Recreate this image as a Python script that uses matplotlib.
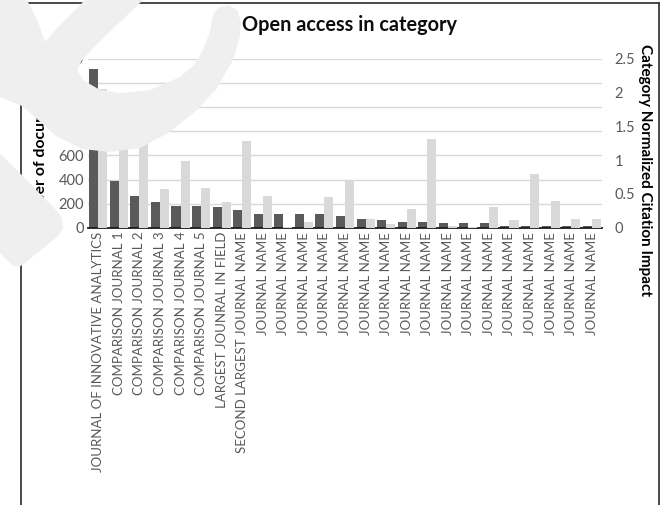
import matplotlib
matplotlib.use('Agg')
import matplotlib.pyplot as plt
from matplotlib.patches import Polygon
from matplotlib.lines import Line2D
import numpy as np

plt.rcParams['font.family'] = ['Lato', 'DejaVu Sans']

categories = ['JOURNAL OF INNOVATIVE ANALYTICS', 'COMPARISON JOURNAL 1', 'COMPARISON JOURNAL 2',
              'COMPARISON JOURNAL 3', 'COMPARISON JOURNAL 4', 'COMPARISON JOURNAL 5',
              'LARGEST JOUNRAL IN FIELD', 'SECOND LARGEST JOURNAL NAME'] + ['JOURNAL NAME'] * 17
docs = [1320, 388, 263, 211, 183, 183, 168, 143, 113, 113, 113, 113, 99,
        72, 62, 50, 50, 35, 35, 35, 18, 18, 18, 18, 18]
cnci = [2.06, 1.55, 1.6, 0.57, 0.99, 0.59, 0.38, 1.28, 0.47, 0.015, 0.08, 0.45, 0.69,
        0.13, 0.055, 0.28, 1.31, 0.025, 0.005, 0.30, 0.11, 0.80, 0.40, 0.13, 0.13]
left_ticks = [0, 200, 400, 600, 800, 1000, 1200, 1400]
right_ticks = [0, 0.5, 1, 1.5, 2, 2.5]

W, H = 663, 505
def px(x, y):
    return (x / W, 1 - y / H)

fig = plt.figure(figsize=(6.63, 5.05), dpi=100)
ax = fig.add_axes([88 / W, 1 - 227.7 / H, (602 - 88) / W, (227.7 - 59) / H])
ax2 = ax.twinx()

x = np.arange(len(categories))
bw = 0.44
ax.bar(x - bw / 2, docs, width=bw, color='#5a5a5a', zorder=3)
ax2.bar(x + bw / 2, cnci, width=bw, color='#d9d9d9', zorder=3)

ax.set_xlim(-0.5, len(categories) - 0.5)
ax.set_ylim(0, 1400)
ax2.set_ylim(0, 2.5)
ax.set_yticks(left_ticks)
ax.set_yticklabels([str(t) for t in left_ticks])
ax2.set_yticks(right_ticks)
ax2.set_yticklabels(['0', '0.5', '1', '1.5', '2', '2.5'])
ax.yaxis.grid(True, color='#d9d9d9', lw=1.0, zorder=0)
ax.set_axisbelow(True)

ax.set_xticks(x)
ax.set_xticklabels(categories, rotation=90, fontsize=9.5, color='#595959')
for a in (ax, ax2):
    for s in ['top', 'left', 'right', 'bottom']:
        a.spines[s].set_visible(False)
    a.tick_params(length=0, labelsize=10.5, colors='#595959')
ax.spines['bottom'].set_visible(True)
ax.spines['bottom'].set_color('#1a1a1a')
ax.spines['bottom'].set_linewidth(1.3)
ax.spines['bottom'].set_zorder(5)
ax.tick_params(axis='x', pad=3, labelsize=9.5)
ax.tick_params(axis='y', pad=3)
ax2.tick_params(axis='y', pad=9)

ax.set_ylabel('Number of documents', fontsize=11.4, fontweight='bold')
ax.yaxis.set_label_coords(-0.0778, 0.413)
ax2.set_ylabel('Category Normalized Citation Impact', fontsize=11, fontweight='bold',
               rotation=270)
ax2.yaxis.set_label_coords(1.083, 0.342)
ax2.yaxis.label.set_va('center')

fig.text(350 / W, 1 - 25 / H, 'Open access in category', fontsize=14.3, fontweight='bold',
         ha='center', va='center', color='#0d0d0d')

# chart area border
for seg in [[(21, 3), (659, 3)], [(659, 3), (659, 505)], [(21, 3), (21, 505)]]:
    (x0, y0), (x1, y1) = px(*seg[0]), px(*seg[1])
    fig.add_artist(Line2D([x0, x1], [y0, y1], transform=fig.transFigure,
                          color='#3a3a3a', lw=1.3, zorder=1))

# watermark overlay
arc = [(0, 0), (27, 0), (38, 22), (45, 42), (60, 25), (85, 0), (143, 0),
       (120, 22), (97, 44), (82, 60), (77, 70), (83, 80), (100, 90), (120, 93),
       (150, 90), (180, 77), (195, 64), (203, 50), (210, 32), (213, 15),
       (219, 7), (229, 5), (237, 10), (241, 22), (240, 36),
       (233, 60), (217, 88), (197, 110), (168, 133), (140, 148), (110, 152),
       (82, 149), (56, 136), (37, 119), (22, 106), (0, 97)]
tail = [(0, 153), (57, 211), (62, 218), (63, 229), (58, 236), (25, 263),
        (19, 267), (12, 265), (0, 253)]
for shape in (arc, tail):
    fig.add_artist(Polygon([px(*p) for p in shape], closed=True, transform=fig.transFigure,
                           facecolor='#efefef', edgecolor='none', zorder=20))

fig.savefig('out.png', dpi=100)
